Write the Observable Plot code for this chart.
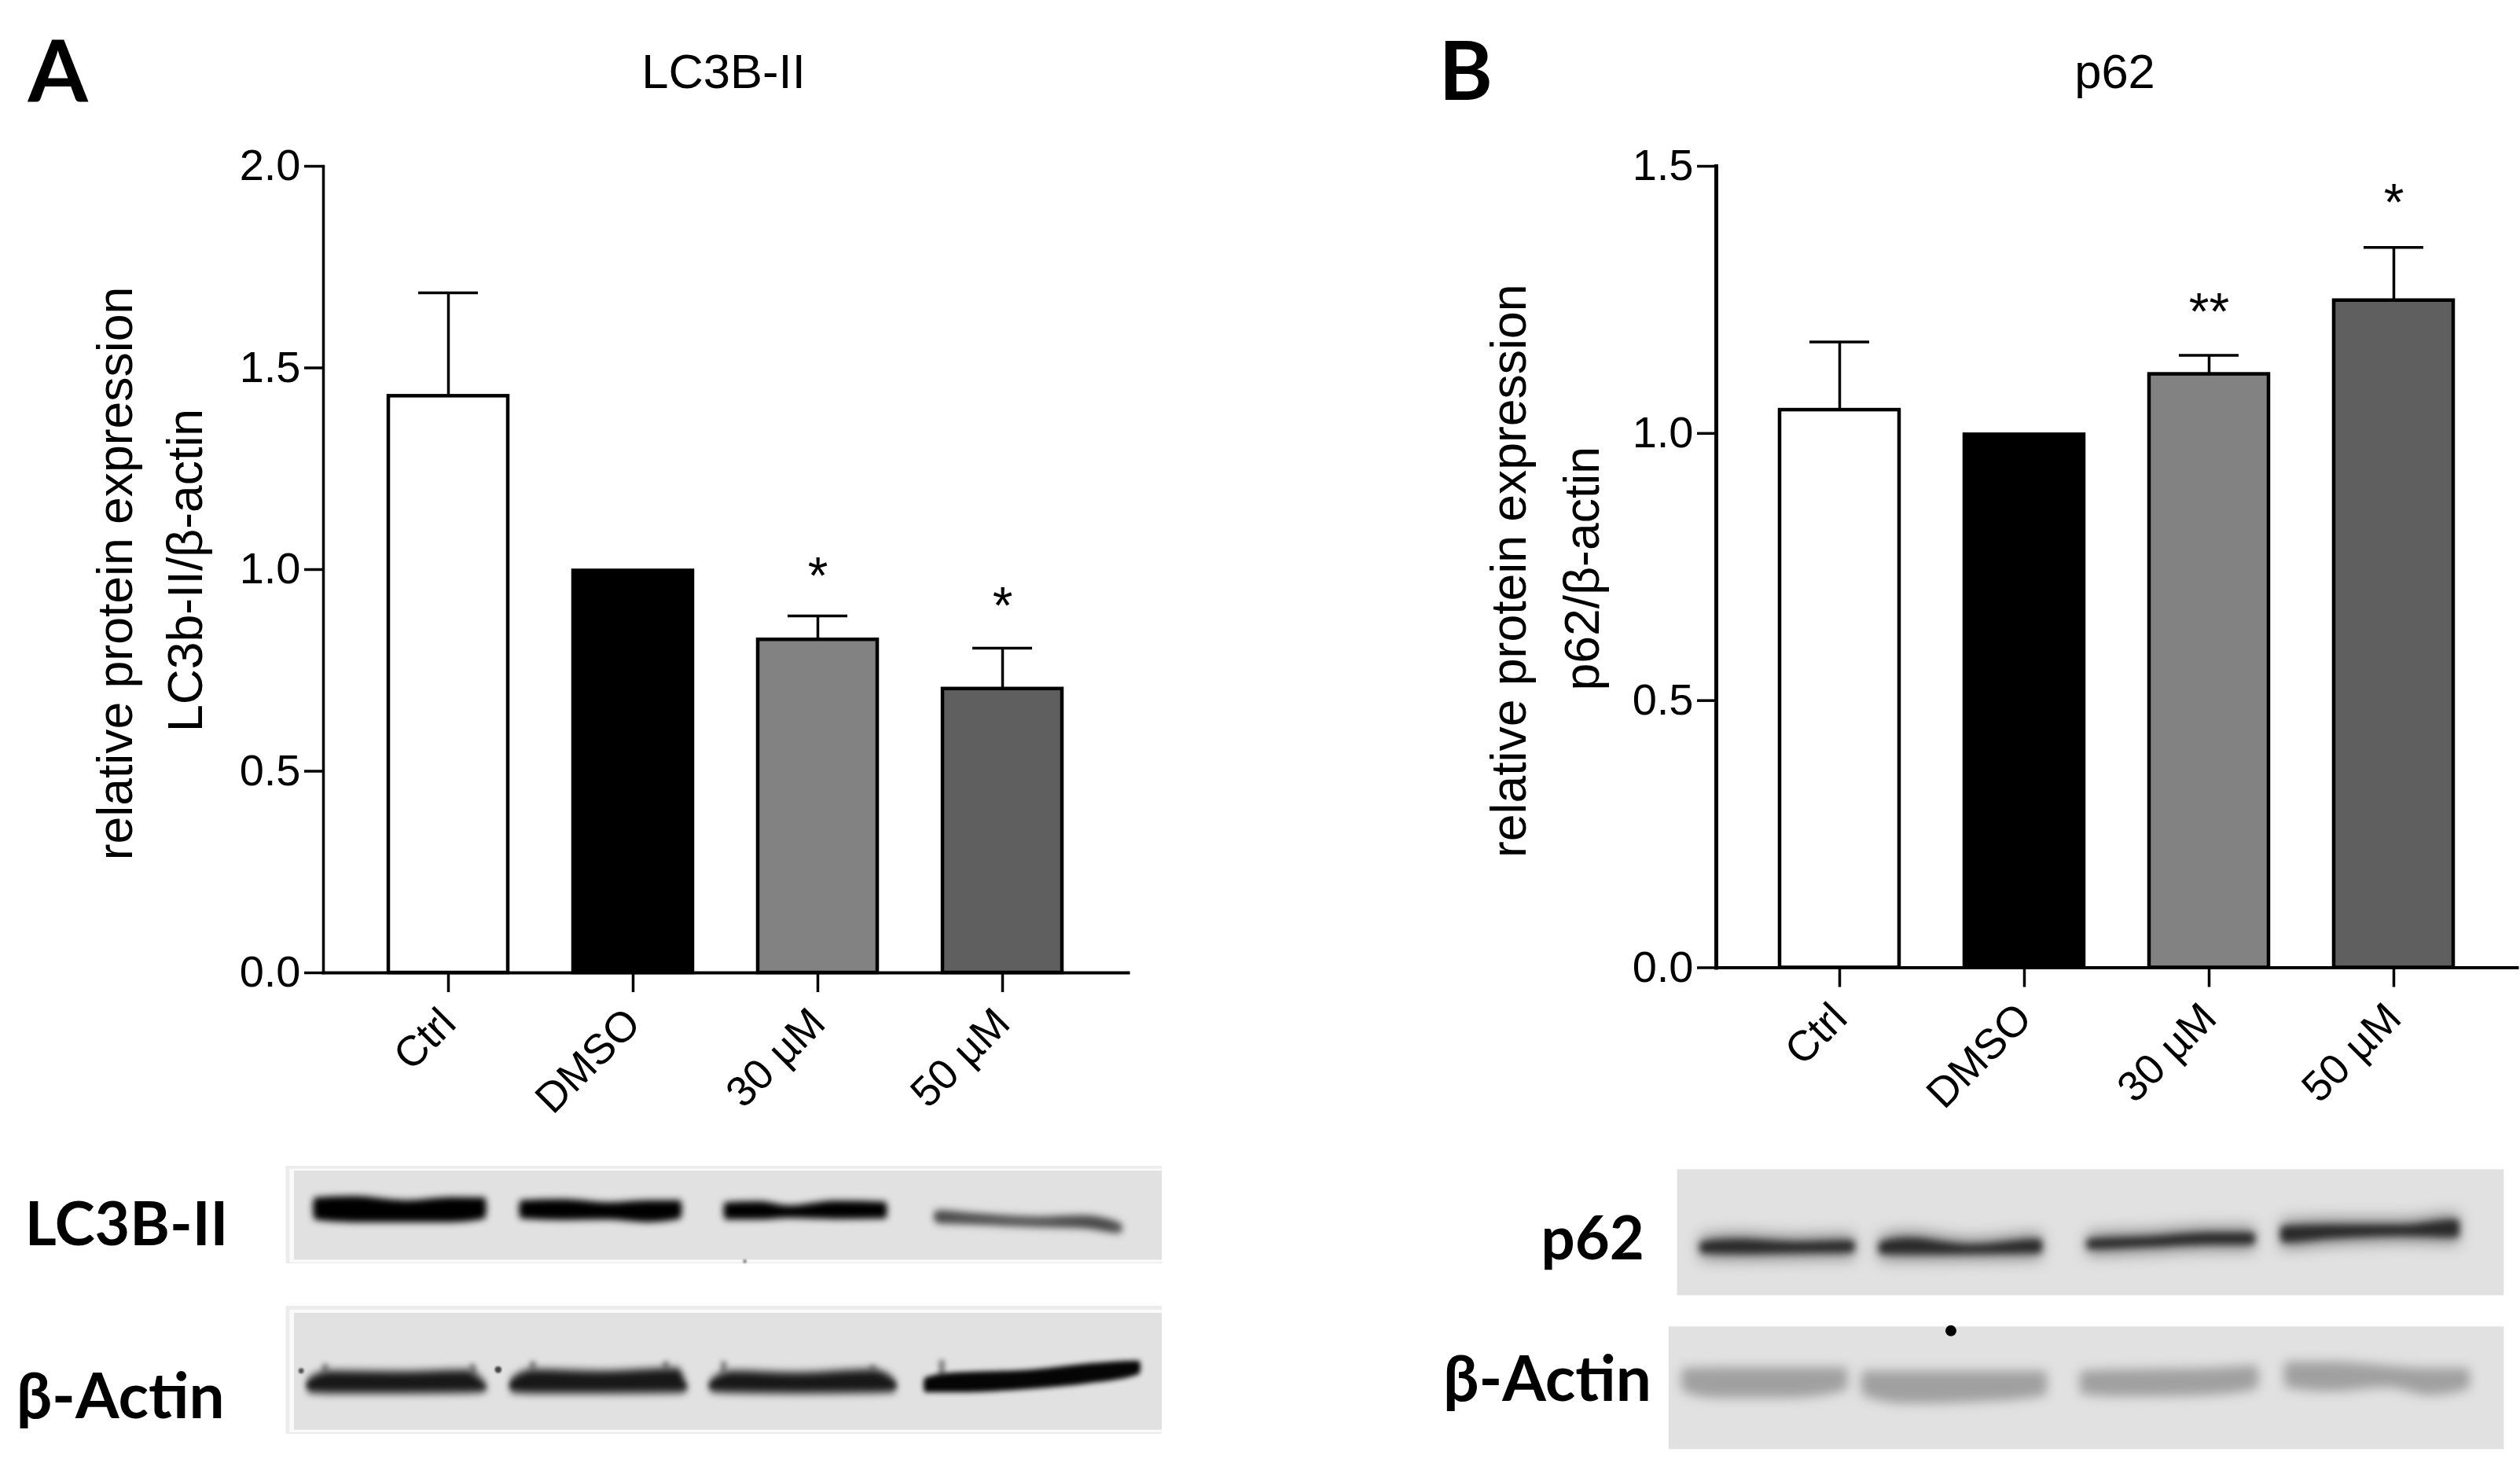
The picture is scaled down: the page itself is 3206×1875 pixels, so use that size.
<!DOCTYPE html>
<html><head><meta charset="utf-8">
<script src="https://cdn.jsdelivr.net/npm/d3@7"></script>
<script src="https://cdn.jsdelivr.net/npm/@observablehq/plot@0.6"></script>
<style>html,body{margin:0;padding:0;background:#fff}svg{position:absolute;max-width:none}</style>
</head><body>
<script>
const groups = ["Ctrl","DMSO","30 µM","50 µM"];
const fills = ["#ffffff","#000000","#828282","#5f5f5f"];
const lc3Mean = [1.433,1.0,0.829,0.707];
const lc3Upper = [1.686,null,0.885,0.805];
const lc3Stars = [null,null,"*","*"];
const lc3StarAt = [null,null,1.0,0.926];
const p62Mean = [1.046,1.0,1.113,1.251];
const p62Upper = [1.171,null,1.146,1.348];
const p62Stars = [null,null,"**","*"];
const p62StarAt = [null,null,1.239,1.443];

const FONT = "'Liberation Sans', Arial, sans-serif";
const BOLD = "Lato, 'Open Sans', sans-serif";

function panel(o){
  const rows = groups.map((g,i)=>({g,fill:fills[i],mean:o.mean[i],upper:o.upper[i],star:o.stars[i],starAt:o.starAt[i]}));
  const err = rows.filter(d=>d.upper!=null), st = rows.filter(d=>d.star);
  const svg = Plot.plot({
    width:o.width,height:1440,marginLeft:o.ml,marginRight:o.mr,marginTop:211,marginBottom:o.mb,
    style:{fontFamily:FONT,left:o.left+"px",top:"0px",background:"none"},
    x:{domain:groups,paddingInner:0.354,paddingOuter:o.po,align:o.align,label:null},
    y:{domain:o.domain,label:null},
    color:{type:"identity"},
    marks:[
      Plot.ruleX(err,{x:"g",y1:"mean",y2:"upper",stroke:"#000",strokeWidth:3.5}),
      Plot.tickY(err,{x:"g",y:"upper",stroke:"#000",strokeWidth:3.5,insetLeft:38,insetRight:38}),
      Plot.barY(rows,{x:"g",y:"mean",fill:"fill",stroke:"#000",strokeWidth:4.5,insetTop:1.5}),
      Plot.frame({anchor:"left",stroke:"#000",strokeWidth:o.axisW}),
      Plot.frame({anchor:"bottom",stroke:"#000",strokeWidth:4}),
      Plot.axisY({ticks:o.ticks,tickFormat:d3.format(".1f"),tickSize:24,tickPadding:5,fontSize:56,strokeWidth:3.5,label:null}),
      Plot.axisX({tickSize:25,tickPadding:30,tickRotate:-45,fontSize:54,strokeWidth:3.5,label:null}),
      Plot.text(st,{x:"g",y:"starAt",text:"star",fontSize:66,lineAnchor:"middle",dy:9,fill:"#000"}),
      Plot.text([o.title],{frameAnchor:"top-left",dx:o.titleX-o.ml,dy:92-211,fontSize:61.5,textAnchor:"middle",lineAnchor:"middle",fill:"#000"}),
      Plot.text([o.letter],{frameAnchor:"top-left",dx:o.letterX-o.ml,dy:93-211,fontSize:o.letterSize,fontWeight:700,fontFamily:BOLD,textAnchor:"start",lineAnchor:"middle",fill:"#000"}),
      Plot.text([o.y1],{frameAnchor:"left",dx:o.y1X-o.ml,dy:5,rotate:-90,fontSize:62.5,textAnchor:"middle",lineAnchor:"middle",fill:"#000"}),
      Plot.text([o.y2],{frameAnchor:"left",dx:o.y2X-o.ml,dy:o.y2dy,rotate:-90,fontSize:62.5,textAnchor:"middle",lineAnchor:"middle",fill:"#000"})
    ]
  });
  document.body.appendChild(svg);
}
panel({left:0,width:1600,ml:411,mr:165,mb:203,po:0.3465,align:0.495,mean:lc3Mean,upper:lc3Upper,stars:lc3Stars,starAt:lc3StarAt,domain:[0,2],ticks:[0,0.5,1,1.5,2],axisW:3.5,
  title:"LC3B-II",titleX:920,letter:"A",letterX:35,letterSize:110,y1:"relative protein expression",y2:"LC3b-II/β-actin",y1X:147,y2X:236,y2dy:1});
panel({left:1800,width:1406,ml:383,mr:4,mb:209.5,po:0.3435,align:0.5,mean:p62Mean,upper:p62Upper,stars:p62Stars,starAt:p62StarAt,domain:[0,1.5],ticks:[0,0.5,1,1.5],axisW:5,
  title:"p62",titleX:890,letter:"B",letterX:30,letterSize:104,y1:"relative protein expression",y2:"p62/β-actin",y1X:120,y2X:213,y2dy:2});

// Western-blot strips: positions in units along the strip
const stripA = [[380,1545,129,501],[380,1545,663,1152]];
const stripASliver = [[385,1545,140,497],[385,1545,678,1146]];
const stripAInner = [[391,1545,147,487],[391,1545,690,1136]];
const stripB = [[372,1545,142,623],[360,1545,742,1210]];

const lc3Bands = [
  [[418,262,322],[470,256,332],[540,272,332],[600,260,332],[645,262,318]],
  [[692,272,318],[750,268,324],[810,280,322],[860,272,332],[905,272,318]],
  [[964,280,322],[1010,276,322],[1050,292,316],[1110,274,320],[1178,278,318]],
  [[1245,305,340],[1290,315,345],[1380,330,355],[1440,325,360],[1490,355,378]]
];
const actinABands = [
  [[410,945,988],[440,915,992],[530,918,992],[620,912,990],[645,960,985]],
  [[680,945,988],[710,910,992],[800,916,992],[900,905,990],[912,960,985]],
  [[945,950,985],[975,915,990],[1060,922,992],[1160,910,990],[1190,950,985]],
  [[1230,945,985],[1270,925,985],[1370,915,972],[1450,890,950],[1515,880,915]]
];
const actinAHorns = [[432,885,930],[628,885,930],[708,875,925],[885,875,925],[962,875,930],[1160,890,930],[1252,870,930]];
const p62Bands = [
  [[406,415,465],[460,405,468],[540,415,465],[622,410,462]],
  [[660,415,468],[700,400,470],[790,425,468],[888,405,465]],
  [[955,405,450],[1040,395,442],[1130,380,432],[1190,380,432]],
  [[1230,355,425],[1300,350,410],[1400,350,400],[1480,330,405]]
];
const actinBBands = [
  [[380,915,975],[430,912,1000],[530,912,1000],[612,912,970]],
  [[635,925,990],[700,925,1022],[800,925,1015],[895,925,990]],
  [[945,925,985],[1000,920,995],[1120,915,990],[1195,905,965]],
  [[1235,890,960],[1300,890,975],[1380,905,960],[1440,915,990],[1495,915,965]]
];
const specks = [[400,910,6,"#555"],[662,905,9,"#444"],[990,492,3,"#888"]];
const blackSpot = [[760,757]];

// each band tapers to a rounded tip just past its first and last reading
const flat = (bands,shade,tag,grow)=>bands.flatMap((b,i)=>{
  const rows = b.map(([x,t,bot])=>({id:tag+i,x,t:t-grow,bot:bot+grow,shade}));
  const [x0,t0,b0] = b[0], [x1,t1,b1] = b[b.length-1];
  return [{id:tag+i,x:x0-2,t:(t0+b0)/2,bot:(t0+b0)/2,shade},...rows,{id:tag+i,x:x1+2,t:(t1+b1)/2,bot:(t1+b1)/2,shade}];
});
const bandArea = (bands,shade,blur,tag,grow=0)=>Plot.areaY(flat(bands,shade,tag,grow),{
  x:"x",y1:"t",y2:"bot",z:"id",fill:"shade",curve:"monotone-x",imageFilter:`blur(${blur}px)`});
const frameRect = (rows,fill)=>Plot.rect(rows,{x1:d=>d[0],x2:d=>d[1],y1:d=>d[2],y2:d=>d[3],fill});
const label = (t,x,y,fontSize)=>Plot.text([t],{x:()=>x,y:()=>y,fontSize,fontWeight:700,fontFamily:BOLD,textAnchor:"end",lineAnchor:"bottom",fill:"#000"});

function strip(left,width,marks){
  document.body.appendChild(Plot.plot({
    width,height:435,margin:0,style:{left:left+"px",top:"1440px",background:"none"},
    x:{domain:[0,1568],axis:null},y:{domain:[0,1305],axis:null,range:[0,435]},color:{type:"identity"},marks}));
}
strip(0,1500,[
  frameRect(stripA,"#ececec"),
  frameRect(stripASliver,"#fafafa"),
  frameRect(stripAInner,"#e1e1e1"),
  bandArea(lc3Bands.slice(0,3),"#000",4,"a",12),
  bandArea(lc3Bands.slice(3),"#777",5,"b",10),
  bandArea(lc3Bands.slice(3),"#3c3c3c",4,"b2",-6),
  Plot.ruleX(actinAHorns,{x:d=>d[0],y1:d=>d[1],y2:d=>d[2],stroke:"#777",strokeWidth:7,imageFilter:"blur(3px)"}),
  bandArea(actinABands.slice(0,3),"#666",4,"c",12),
  bandArea(actinABands.slice(0,3),"#181818",3.5,"c2",-8),
  bandArea(actinABands.slice(3),"#050505",3,"d",8),
  Plot.dot(specks,{x:d=>d[0],y:d=>d[1],r:d=>d[2]/1.3,fill:d=>d[3],imageFilter:"blur(1px)"}),
  label("LC3B-II",303,430,77),
  label("β-Actin",298,1090,80)
]);
strip(1800,1406,[
  frameRect(stripB,"#e1e1e1"),
  bandArea(p62Bands,"#909090",9,"e",22),
  bandArea(p62Bands,"#2a2a2a",5,"e2",-4),
  bandArea(actinBBands,"#a0a0a0",7,"f",14),
  Plot.dot(blackSpot,{x:d=>d[0],y:d=>d[1],r:7,fill:"#000"}),
  label("p62",325,485,76),
  label("β-Actin",335,1025,80)
]);
</script>
</body></html>
